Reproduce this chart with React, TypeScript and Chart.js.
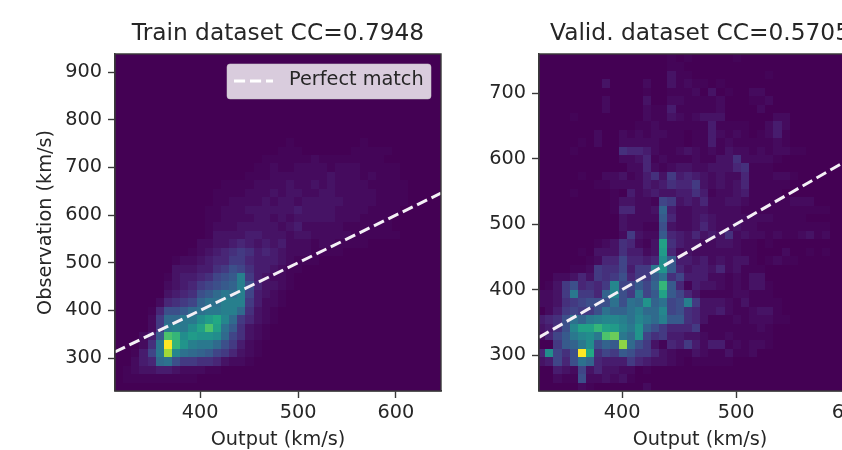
import React, { useEffect, useRef } from "react";
import { Chart, registerables } from "chart.js";

Chart.register(...registerables);

// Histogram levels, one string per row from the top row down, one base-36 digit per column (0-z, z = peak).
const trainRows: string[] = [
  "", "", "", "", "", "", "", "", "", "",
  "0000000000 0000000000 0100000000 100",
  "0000000000 0000000000 1110000001 11110",
  "0000000000 0000000011 1111211111 11100",
  "0000000000 0000000112 1122221222 11111",
  "0000000000 0000001112 2222223222 12111",
  "0000000000 0001111222 2322323222 2111110",
  "0000000000 0011112223 2332233222 2211110",
  "0000000000 0011222232 3323333322 221111",
  "0000000000 0112223333 3343333222 21111",
  "0000000000 0112222332 3233333222 1111",
  "0000000000 0122233333 2342222211 1111",
  "0000000000 0133334433 3233222221 11111",
  "0000000000 2233454343 4222122111 10",
  "0000000001 2345676454 3222111100",
  "0000000122 3455775444 3211100000",
  "0000000333 4467986443 2110000000",
  "0000001344 5689af7432 2100000000",
  "0000002345 789abf9533 2100000000",
  "0000003456 9acedf8432 1000000000",
  "0000025678 bddfff7422 1000000000",
  "0000159 9ac deeffc6321 0000000000",
  "000027ccee hjlgc75321 0000000000",
  "000027efeh kpkda63210 0000000000",
  "00024apnhj iihc863210 0000000000",
  "00026eznif eec9742100 0000000000",
  "00148eugdc ba87532100 0000000000",
  "00245cd977 6653221000 0000000000",
  "0123344322 2110000000",
  "0111111111",
  "",
];

const validRows: string[] = [
  "0000000000 0000001010 0000100000",
  "0000000000 0000001100",
  "0000000000 0000003110 0000000010",
  "0000000030 0002003121 1010000000",
  "0000000000 0001001112 0301002200",
  "0000000020 0003002211 1120001120",
  "0000000020 0002114111 1120000200",
  "0000100000 0002113212 3330000002 2",
  "0000000000 0011211111 1411110024 2",
  "0000000200 2121221101 1421210124 1",
  "0000010200 2222211101 1412111112 1",
  "0000100000 6554211232 1213221212 211",
  "0000000000 2235121112 1133622221",
  "0000000000 0225212332 2333561110",
  "0000010022 3124637454 3232251112 21",
  "0000000112 2224346557 3232351111 1",
  "0000100001 0423433446 4122341111",
  "0000000001 3322187343 5223321111 1222",
  "0000000001 55223b4223 3222211111 111111",
  "0000000000 32222a5223 4322222221 111",
  "0000000000 3221193223 5322322111 111111",
  "0000000000 27322a5435 3436232212 112312",
  "0000000123 65213k6433 2233211010",
  "0000010333 64423j5232 2222211000 200101",
  "0000001255 85545ha443 4232331012 11",
  "0000112766 8477eia534 4352311100",
  "0022353767 9577ad6844 4221213300",
  "013795657g 88a8bna514 3321213310",
  "2237e775bg 97e8aka853 1111221110",
  "223678999d 9dcibd89f7 3332131111",
  "02478779db bdfccg8965 3342112331",
  "4569dbefgg fdgecfaa65 3111212221 1",
  "3469gkknkj geib975557 1111111210",
  "258aeghepr eci8674433 2112111110",
  "007abeh9ba tc97315474 2441212210",
  "5h869zl687 a977532113 2113112",
  "34859db544 4754332101 1111",
  "0043283533 2201",
  "0021192232 31",
  "0000021000 0002",
];

const trainLine = [313, 646];
const validLine = [327, 610];
const trainXTicks = [400, 500, 600];
const trainYTicks = [300, 400, 500, 600, 700, 800, 900];
const validXTicks = [400, 500, 600];
const validYTicks = [300, 400, 500, 600, 700];
const trainTitle = "Train dataset CC=0.7948";
const validTitle = "Valid. dataset CC=0.5705";
const xLabel = "Output (km/s)";
const yLabel = "Observation (km/s)";
const legendLabel = "Perfect match";

const FONT = "'DejaVu Sans'";
const INK = "#262626";
const SPINE = "#3a3a3a";
const VIRIDIS = ["#440154", "#482475", "#414487", "#355f8d", "#2a788e", "#21918c", "#22a884", "#44bf70", "#7ad151", "#bddf26", "#fde725"];

function hex(c: string) {
  return [1, 3, 5].map((i) => parseInt(c.slice(i, i + 2), 16));
}
function viridis(t: number) {
  const p = Math.min(0.9999, Math.max(0, t)) * 10;
  const i = Math.floor(p);
  const a = hex(VIRIDIS[i]);
  const b = hex(VIRIDIS[i + 1]);
  const m = a.map((v, k) => Math.round(v + (b[k] - v) * (p - i)));
  return `rgb(${m[0]},${m[1]},${m[2]})`;
}

type Cell = { x: number; y: number; v: number };

// Low digits are stretched downward so that faint bins stay faint.
function level(d: number) {
  const t = d / 35;
  return t < 0.3 ? 0.3 * Math.pow(t / 0.3, 1.4) : t;
}

function toCells(rows: string[], x0: number, dx: number, y0: number, dy: number): Cell[] {
  const out: Cell[] = [];
  rows.forEach((row, r) => {
    row.replace(/ /g, "").split("").forEach((ch, c) => {
      const v = parseInt(ch, 36);
      if (v > 0) out.push({ x: x0 + (c + 0.5) * dx, y: y0 + (rows.length - 1 - r + 0.5) * dy, v: level(v) });
    });
  });
  return out;
}

const snap = (px: number) => Math.round(Math.round(px * 1000) / 1000);

const heatmapPlugin = {
  id: "heatmap",
  beforeDatasetsDraw(chart: any) {
    const { ctx, chartArea: a, scales } = chart;
    const { dx, dy } = chart.options.plugins.heatmap;
    ctx.save();
    ctx.beginPath();
    ctx.rect(a.left, a.top, a.right - a.left, a.bottom - a.top);
    ctx.clip();
    ctx.fillStyle = viridis(0);
    ctx.fillRect(a.left, a.top, a.right - a.left, a.bottom - a.top);
    for (const p of chart.data.datasets[0].data as Cell[]) {
      const l = snap(scales.x.getPixelForValue(p.x - dx / 2));
      const r = snap(scales.x.getPixelForValue(p.x + dx / 2));
      const t = snap(scales.y.getPixelForValue(p.y + dy / 2));
      const b = snap(scales.y.getPixelForValue(p.y - dy / 2));
      ctx.fillStyle = viridis(p.v);
      ctx.fillRect(l, t, r - l, b - t);
    }
    ctx.restore();
  },
};

const framePlugin = {
  id: "frame",
  afterDatasetsDraw(chart: any) {
    const { ctx, chartArea: a } = chart;
    ctx.save();
    ctx.strokeStyle = SPINE;
    ctx.lineWidth = 1.4;
    ctx.strokeRect(a.left, a.top, a.right - a.left, a.bottom - a.top);
    if (chart.options.plugins.frame.legend) {
      const w = 204, h = 35;
      const x = a.right - 10 - w, y = a.top + 10;
      ctx.beginPath();
      ctx.roundRect(x, y, w, h, 3);
      ctx.fillStyle = "rgba(255,255,255,0.8)";
      ctx.fill();
      ctx.strokeStyle = "rgba(204,204,204,0.5)";
      ctx.lineWidth = 1;
      ctx.stroke();
      ctx.beginPath();
      ctx.setLineDash([11.1, 4.9]);
      ctx.lineWidth = 3;
      ctx.strokeStyle = "#ffffff";
      ctx.moveTo(x + 7, y + 17);
      ctx.lineTo(x + 46, y + 17);
      ctx.stroke();
      ctx.setLineDash([]);
      ctx.fillStyle = INK;
      ctx.font = `19.3px ${FONT}`;
      ctx.textBaseline = "middle";
      ctx.fillText(chart.options.plugins.frame.legend, x + 62, y + 16);
    }
    ctx.restore();
  },
};

function makeChart(
  canvas: HTMLCanvasElement,
  o: {
    rows: string[]; title: string; line: number[]; xr: number[]; yr: number[]; xt: number[]; yt: number[];
    binX0: number; dx: number; dy: number; leftW: number; rightPad: number; ylabel?: string; legend?: string;
  }
) {
  const linePts = o.line.map((v) => ({ x: v, y: v }));
  return new Chart(canvas, {
    type: "scatter",
    data: {
      datasets: [
        { label: "hist", data: toCells(o.rows, o.binX0, o.dx, o.yr[0], o.dy) as any, pointRadius: 0, pointHoverRadius: 0, showLine: false },
        { label: legendLabel, data: linePts, showLine: true, borderColor: "#f4f0f6", borderWidth: 3, borderDash: [11.1, 4.9], pointRadius: 0 },
      ],
    },
    options: {
      animation: false,
      responsive: false,
      layout: { padding: { left: 0, right: o.rightPad, top: 0, bottom: 0 } },
      plugins: {
        legend: { display: false },
        tooltip: { enabled: false },
        title: {
          display: true,
          fullSize: false,
          text: o.title,
          color: INK,
          font: { family: FONT, size: 23.3, weight: "normal", lineHeight: 1.2 },
          padding: { top: 20, bottom: 6 },
        },
        heatmap: { dx: o.dx, dy: o.dy },
        frame: { legend: o.legend },
      } as any,
      scales: {
        x: {
          type: "linear",
          min: o.xr[0],
          max: o.xr[1],
          afterFit: (s: any) => { s.height = 59; },
          afterBuildTicks: (s: any) => { s.ticks = o.xt.map((value) => ({ value })); },
          ticks: { color: INK, font: { family: FONT, size: 19.3 }, maxRotation: 0, padding: 3, autoSkip: false },
          grid: { drawOnChartArea: false, drawTicks: true, tickLength: 7, tickWidth: 1.4, tickColor: SPINE, color: SPINE },
          border: { display: true, color: SPINE, width: 1.4 },
          title: { display: true, text: xLabel, color: INK, font: { family: FONT, size: 19.3 }, padding: { top: 0, bottom: -1.5 } },
        },
        y: {
          type: "linear",
          min: o.yr[0],
          max: o.yr[1],
          afterFit: (s: any) => { s.width = o.leftW; },
          afterBuildTicks: (s: any) => { s.ticks = o.yt.map((value) => ({ value })); },
          ticks: { color: INK, font: { family: FONT, size: 19.3 }, padding: 6, autoSkip: false },
          grid: { drawOnChartArea: false, drawTicks: true, tickLength: 7, tickWidth: 1.4, tickColor: SPINE, color: SPINE },
          border: { display: true, color: SPINE, width: 1.4 },
          title: { display: !!o.ylabel, text: o.ylabel, color: INK, font: { family: FONT, size: 19.3 }, padding: { top: 34, bottom: 0 } },
        },
      },
    },
    plugins: [heatmapPlugin, framePlugin],
  } as any);
}

export default function App() {
  const a = useRef<HTMLCanvasElement>(null);
  const b = useRef<HTMLCanvasElement>(null);
  useEffect(() => {
    const c1 = makeChart(a.current!, {
      rows: trainRows, title: trainTitle, line: trainLine, xr: [313, 646], yr: [231, 938], xt: trainXTicks, yt: trainYTicks,
      binX0: 313, dx: 333 / 40, dy: 707 / 40, leftW: 115, rightPad: 19, ylabel: yLabel, legend: legendLabel,
    });
    const c2 = makeChart(b.current!, {
      rows: validRows, title: validTitle, line: validLine, xr: [327, 609.5], yr: [245, 760], xt: validXTicks, yt: validYTicks,
      binX0: 325.3, dx: 286 / 40, dy: 515 / 40, leftW: 77, rightPad: 21,
    });
    return () => { c1.destroy(); c2.destroy(); };
  }, []);
  const blur = "blur(0.5px)";
  return (
    <div style={{ position: "fixed", left: 0, top: 0, width: 842, height: 450, overflow: "hidden", background: "#fff" }}>
      <canvas ref={a} width={460} height={450} style={{ position: "absolute", left: 0, top: 0, filter: blur }} />
      <canvas ref={b} width={420} height={450} style={{ position: "absolute", left: 462, top: 0, filter: blur }} />
    </div>
  );
}
